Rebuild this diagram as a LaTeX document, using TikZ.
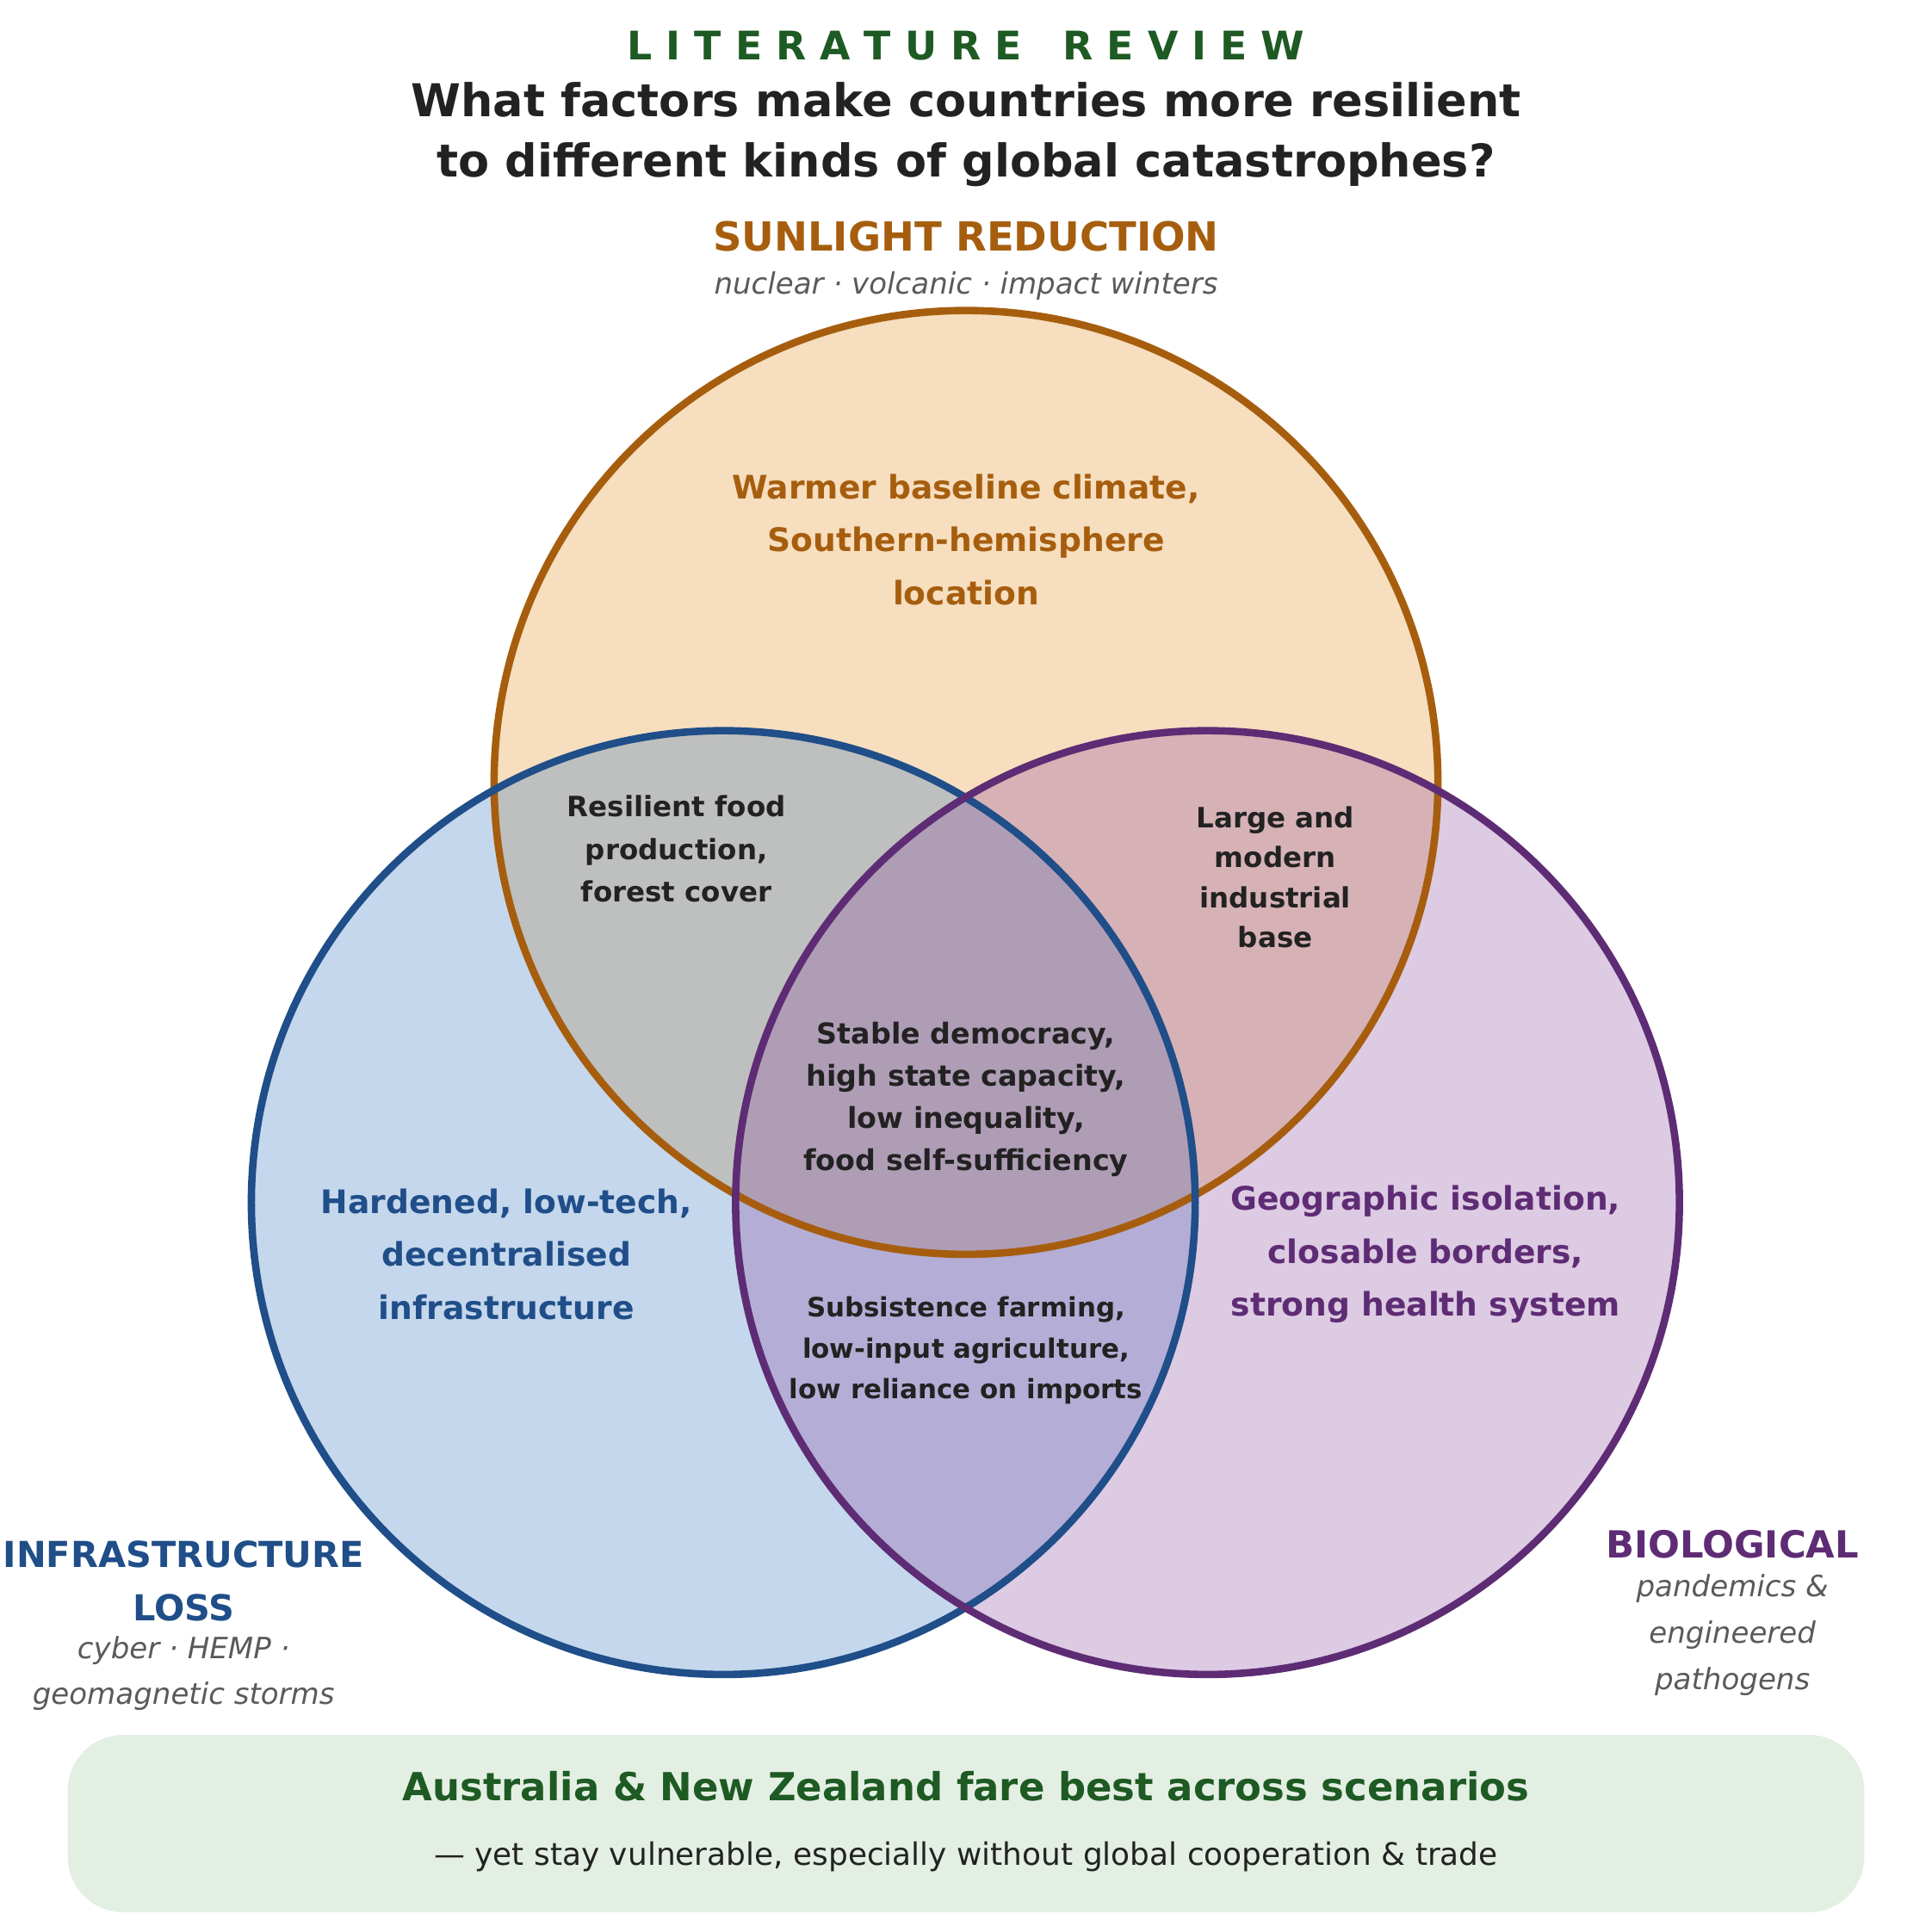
\documentclass[tikz,border=0pt]{standalone}
\usepackage{fontspec}
\setmainfont{DejaVu Sans}
\usetikzlibrary{positioning}
\definecolor{sunorange}{RGB}{166,94,14}
\definecolor{sunfill}{RGB}{225,145,42}
\definecolor{infrablue}{RGB}{31,78,137}
\definecolor{infrafill}{RGB}{62,122,192}
\definecolor{biopurple}{RGB}{94,44,116}
\definecolor{biofill}{RGB}{142,78,162}
\definecolor{reviewgreen}{RGB}{30,90,35}
\definecolor{boxgreen}{RGB}{228,239,227}
\definecolor{inktext}{RGB}{34,34,34}
\definecolor{subgray}{RGB}{90,90,90}
\tikzset{
    setfill/.style={fill=#1, fill opacity=0.3},
    setedge/.style={draw=#1, line width=6pt},
    txt/.style={inner sep=0pt, align=center},
    heading/.style={txt, font=\bfseries\fontsize{29}{43}\selectfont, text=#1},
    hazard/.style={txt, font=\itshape\fontsize{23.8}{37}\selectfont, text=subgray},
    single/.style={txt, font=\bfseries\fontsize{26.3}{43}\selectfont, text=#1},
    shared/.style={txt, font=\bfseries\fontsize{22.7}{34.5}\selectfont, text=inktext},
    summarybox/.style={fill=boxgreen, rounded corners=45pt, minimum width=1458pt, minimum height=144pt, inner sep=0pt},
}
\begin{document}
\begin{tikzpicture}[x=1pt, y=-1pt]
    \useasboundingbox (0,0) rectangle (1568,1568);
    \coordinate (sun) at (784,635);
    \coordinate (infra) at (587,976);
    \coordinate (bio) at (980,976);
    \fill[setfill=sunfill] (sun) circle (383);
    \fill[setfill=infrafill] (infra) circle (383);
    \fill[setfill=biofill] (bio) circle (383);
    \draw[setedge=sunorange] (sun) circle (383);
    \draw[setedge=infrablue] (infra) circle (383);
    \draw[setedge=biopurple] (bio) circle (383);

    \node[txt, font=\bfseries\fontsize{32}{38}\selectfont, text=reviewgreen] (review) at (784,37) {L~I~T~E~R~A~T~U~R~E~~~R~E~V~I~E~W};
    \node[txt, font=\bfseries\fontsize{36.7}{49}\selectfont, text=inktext] (question) at (784,109) {What factors make countries more resilient\\to different kinds of global catastrophes?};

    \node[heading=sunorange, font=\bfseries\fontsize{32.5}{40}\selectfont] (sunTitle) at (784,192) {SUNLIGHT REDUCTION};
    \node[hazard] (sunSub) at (784,232) {nuclear · volcanic · impact winters};
    \node[heading=infrablue] (infraTitle) at (149,1283) {INFRASTRUCTURE\\LOSS};
    \node[hazard] (infraSub) at (149,1358) {cyber · HEMP ·\\geomagnetic storms};
    \node[heading=biopurple, font=\bfseries\fontsize{30.3}{40}\selectfont] (bioTitle) at (1406,1253) {BIOLOGICAL};
    \node[hazard, font=\itshape\fontsize{23.8}{37.5}\selectfont] (bioSub) at (1406,1327) {pandemics \&\\engineered\\pathogens};

    \node[single=sunorange] (sunOnly) at (784,438) {Warmer baseline climate,\\Southern-hemisphere\\location};
    \node[single=infrablue] (infraOnly) at (411,1018) {Hardened, low-tech,\\decentralised\\infrastructure};
    \node[single=biopurple] (bioOnly) at (1157,1018) {Geographic isolation,\\closable borders,\\strong health system};

    \node[shared] (sunInfra) at (549,689) {Resilient food\\production,\\forest cover};
    \node[shared, font=\bfseries\fontsize{22.7}{32.5}\selectfont] (sunBio) at (1035,712) {Large and\\modern\\industrial\\base};
    \node[shared, font=\bfseries\fontsize{23.3}{34.3}\selectfont] (core) at (784,892) {Stable democracy,\\high state capacity,\\low inequality,\\food self-sufficiency};
    \node[shared, font=\bfseries\fontsize{21.6}{33}\selectfont] (infraBio) at (784,1096) {Subsistence farming,\\low-input agriculture,\\low reliance on imports};

    \node[summarybox] (summary) at (784,1480) {};
    \node[txt, font=\bfseries\fontsize{31.4}{36}\selectfont, text=reviewgreen] (verdict) at (784,1450) {Australia \& New Zealand fare best across scenarios};
    \node[txt, font=\fontsize{25.1}{30}\selectfont, text=inktext] (caveat) at (784,1507) {— yet stay vulnerable, especially without global cooperation \& trade};
\end{tikzpicture}
\end{document}
